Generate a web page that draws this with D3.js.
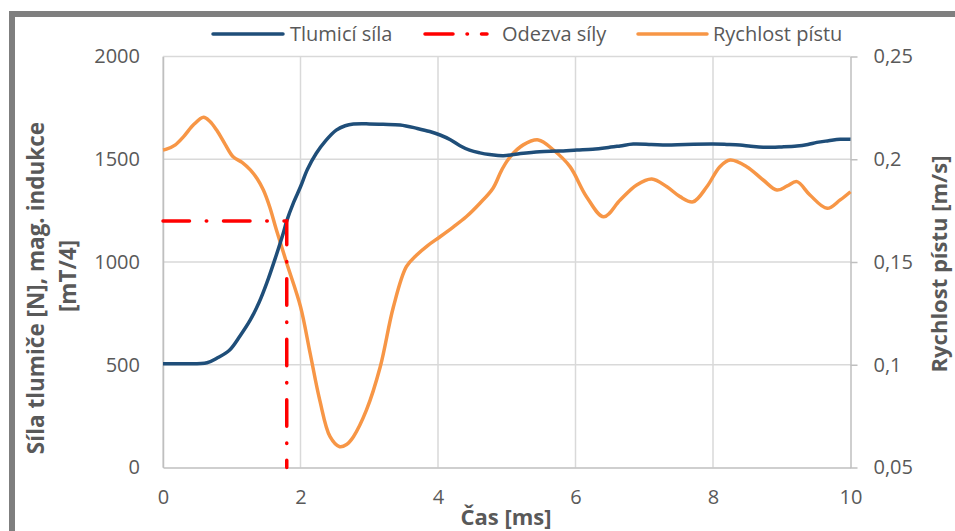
<!DOCTYPE html>
<html>
<head>
<meta charset="utf-8">
<script src="https://cdn.jsdelivr.net/npm/d3@7"></script>
<style>
  html, body { margin: 0; padding: 0; background: #fff; }
  svg { display: block; font-family: "Open Sans", "Noto Sans", sans-serif; }
</style>
</head>
<body>
<svg id="chart" width="955" height="531"></svg>
<script>
// Time axis (ms) and tick labels
const xTicks = [0, 2, 4, 6, 8, 10];
const leftTicks = [0, 500, 1000, 1500, 2000];
const rightTicks = [0.05, 0.1, 0.15, 0.2, 0.25];

// Damper force [N] / magnetic induction [mT/4]
const silaT = [0, 0.3, 0.64, 0.8, 0.97, 1.12, 1.27, 1.4, 1.51, 1.63, 1.75, 1.8, 1.9, 2.0, 2.1, 2.23, 2.37, 2.52, 2.65, 2.77, 3.0, 3.2, 3.45, 3.7, 3.88, 4.03, 4.18, 4.32, 4.46, 4.61, 4.75, 4.95, 5.2, 5.48, 5.75, 6.02, 6.25, 6.45, 6.65, 6.84, 7.1, 7.33, 7.6, 8.0, 8.2, 8.39, 8.55, 8.73, 9.0, 9.22, 9.38, 9.51, 9.68, 9.85, 10];
const silaF = [505, 505, 510, 535, 572, 640, 718, 805, 898, 1015, 1141, 1200, 1290, 1366, 1450, 1529, 1592, 1642, 1663, 1671, 1672, 1670, 1667, 1650, 1635, 1618, 1595, 1566, 1544, 1531, 1523, 1517, 1528, 1537, 1540, 1545, 1549, 1556, 1565, 1574, 1572, 1569, 1572, 1574, 1572, 1569, 1563, 1558, 1560, 1564, 1572, 1582, 1590, 1597, 1597];

// Force response marker (dash-dot): level and response time
const odezvaT = [0, 1.8, 1.8];
const odezvaF = [1200, 1200, 0];

// Piston velocity [m/s]
const rychlostT = [0, 0.05, 0.18, 0.3, 0.45, 0.59, 0.68, 0.78, 0.9, 1.02, 1.15, 1.27, 1.37, 1.46, 1.55, 1.65, 1.8, 2.0, 2.14, 2.28, 2.43, 2.57, 2.67, 2.77, 2.96, 3.16, 3.35, 3.54, 3.69, 3.85, 4.03, 4.22, 4.41, 4.61, 4.8, 4.93, 5.05, 5.24, 5.46, 5.68, 5.92, 6.16, 6.41, 6.65, 6.89, 7.11, 7.33, 7.52, 7.71, 7.91, 8.1, 8.25, 8.49, 8.73, 8.93, 9.08, 9.22, 9.41, 9.66, 9.85, 10];
const rychlostV = [0.2045, 0.2049, 0.207, 0.211, 0.217, 0.2204, 0.2185, 0.2142, 0.2075, 0.2012, 0.1985, 0.1948, 0.1905, 0.185, 0.177, 0.1656, 0.1494, 0.1283, 0.1056, 0.0828, 0.065, 0.0601, 0.0612, 0.065, 0.078, 0.099, 0.128, 0.1477, 0.1534, 0.158, 0.1623, 0.167, 0.172, 0.1786, 0.1859, 0.195, 0.2012, 0.207, 0.2094, 0.2045, 0.1964, 0.1818, 0.172, 0.1802, 0.1875, 0.1904, 0.1866, 0.1818, 0.1793, 0.1866, 0.1964, 0.1996, 0.1964, 0.1899, 0.185, 0.187, 0.1891, 0.1826, 0.1761, 0.1802, 0.1842];

const seriesNames = ["Tlumicí síla", "Odezva síly", "Rychlost pístu"];
const colors = { sila: "#1f4e79", odezva: "#ff0000", rychlost: "#f79646" };
const textColor = "#595959";

const svg = d3.select("#chart");
const plot = { left: 163, right: 850.5, top: 56.5, bottom: 467.5 };

const x = d3.scaleLinear().domain([0, 10]).range([plot.left, plot.right]);
const yL = d3.scaleLinear().domain([0, 2000]).range([plot.bottom, plot.top]);
const yR = d3.scaleLinear().domain([0.05, 0.25]).range([plot.bottom, plot.top]);

// Outer chart frame
svg.append("rect")
  .attr("x", 12).attr("y", 14).attr("width", 1000).attr("height", 600)
  .attr("fill", "none").attr("stroke", "#7f7f7f").attr("stroke-width", 6);

// Gridlines
const grid = svg.append("g");
grid.selectAll("line.h").data(leftTicks.slice(1)).join("line")
  .attr("x1", plot.left).attr("x2", plot.right)
  .attr("y1", d => yL(d)).attr("y2", d => yL(d))
  .attr("stroke", "#d9d9d9").attr("stroke-width", 1.5);
grid.selectAll("line.v").data(xTicks.slice(0, -1)).join("line")
  .attr("x1", d => x(d)).attr("x2", d => x(d))
  .attr("y1", plot.top).attr("y2", plot.bottom)
  .attr("stroke", "#d9d9d9").attr("stroke-width", 1.5);

// Bottom axis
const xAxis = svg.append("g").attr("transform", `translate(0,${plot.bottom})`)
  .call(d3.axisBottom(x).tickValues(xTicks).tickSize(0).tickPadding(22).tickFormat(d3.format("d")));
xAxis.select(".domain").attr("stroke", "#bfbfbf").attr("stroke-width", 1.5);

// Left axis
const yAxisL = svg.append("g").attr("transform", `translate(${plot.left},0)`)
  .call(d3.axisLeft(yL).tickValues(leftTicks).tickSize(0).tickPadding(23).tickFormat(d3.format("d")));
yAxisL.select(".domain").attr("stroke", "#bfbfbf").attr("stroke-width", 1.5);

// Right axis (decimal comma)
const commaFmt = d => String(+d.toFixed(2)).replace(".", ",");
const yAxisR = svg.append("g").attr("transform", `translate(${plot.right},0)`)
  .call(d3.axisRight(yR).tickValues(rightTicks).tickSizeInner(7).tickSizeOuter(0).tickPadding(16).tickFormat(commaFmt));
yAxisR.select(".domain").attr("stroke", "#bfbfbf").attr("stroke-width", 1.5);
yAxisR.selectAll(".tick line").attr("stroke", "#bfbfbf").attr("stroke-width", 1.5);

[xAxis, yAxisL, yAxisR].forEach(a => a.selectAll(".tick text")
  .attr("fill", textColor).style("font-size", "20px").style("font-family", '"Open Sans", sans-serif'));

// Series
const lineSila = d3.line().x((d, i) => x(silaT[i])).y(d => yL(d)).curve(d3.curveCatmullRom.alpha(0.5));
const lineRych = d3.line().x((d, i) => x(rychlostT[i])).y(d => yR(d)).curve(d3.curveCatmullRom.alpha(0.5));
const lineOdezva = d3.line().x((d, i) => x(odezvaT[i])).y(d => yL(d));

svg.append("path").datum(rychlostV).attr("d", lineRych)
  .attr("fill", "none").attr("stroke", colors.rychlost).attr("stroke-width", 3.5).attr("stroke-linejoin", "round");
svg.append("path").datum(silaF).attr("d", lineSila)
  .attr("fill", "none").attr("stroke", colors.sila).attr("stroke-width", 3.5).attr("stroke-linejoin", "round");
svg.append("path").datum(odezvaF).attr("d", lineOdezva)
  .attr("fill", "none").attr("stroke", colors.odezva).attr("stroke-width", 3.5)
  .attr("stroke-linecap", "round").attr("stroke-dasharray", "26.5 16.75 0.5 16.75");

// Legend
const legend = svg.append("g").attr("transform", "translate(0,34)");
const legendItems = [
  { name: seriesNames[0], x1: 213, x2: 283, tx: 290, color: colors.sila, dash: null },
  { name: seriesNames[1], x1: 425, x2: 487, tx: 502, color: colors.odezva, dash: "28 14 0.5 14" },
  { name: seriesNames[2], x1: 638, x2: 707, tx: 713, color: colors.rychlost, dash: null }
];
legendItems.forEach(it => {
  legend.append("line").attr("x1", it.x1).attr("x2", it.x2).attr("y1", 0).attr("y2", 0)
    .attr("stroke", it.color).attr("stroke-width", 3.5).attr("stroke-linecap", "round")
    .attr("stroke-dasharray", it.dash);
  legend.append("text").attr("x", it.tx).attr("y", 0).attr("dy", "0.35em")
    .attr("fill", textColor).style("font-size", "20px").text(it.name);
});

// Axis titles
svg.append("text").attr("x", 506).attr("y", 517).attr("dy", "0.35em").attr("text-anchor", "middle")
  .attr("fill", textColor).style("font-size", "22px").style("font-weight", "bold").text("Čas [ms]");
svg.append("text").attr("transform", "translate(36,288) rotate(-90)").attr("dy", "0.35em")
  .attr("text-anchor", "middle").attr("fill", textColor).style("font-size", "22.5px").style("font-weight", "bold")
  .text("Síla tlumiče [N], mag. indukce");
svg.append("text").attr("transform", "translate(68,276) rotate(-90)").attr("dy", "0.35em")
  .attr("text-anchor", "middle").attr("fill", textColor).style("font-size", "22.5px").style("font-weight", "bold")
  .text("[mT/4]");
svg.append("text").attr("transform", "translate(939,264) rotate(-90)").attr("dy", "0.35em")
  .attr("text-anchor", "middle").attr("fill", textColor).style("font-size", "22px").style("font-weight", "bold")
  .text("Rychlost pístu [m/s]");
</script>
</body>
</html>
